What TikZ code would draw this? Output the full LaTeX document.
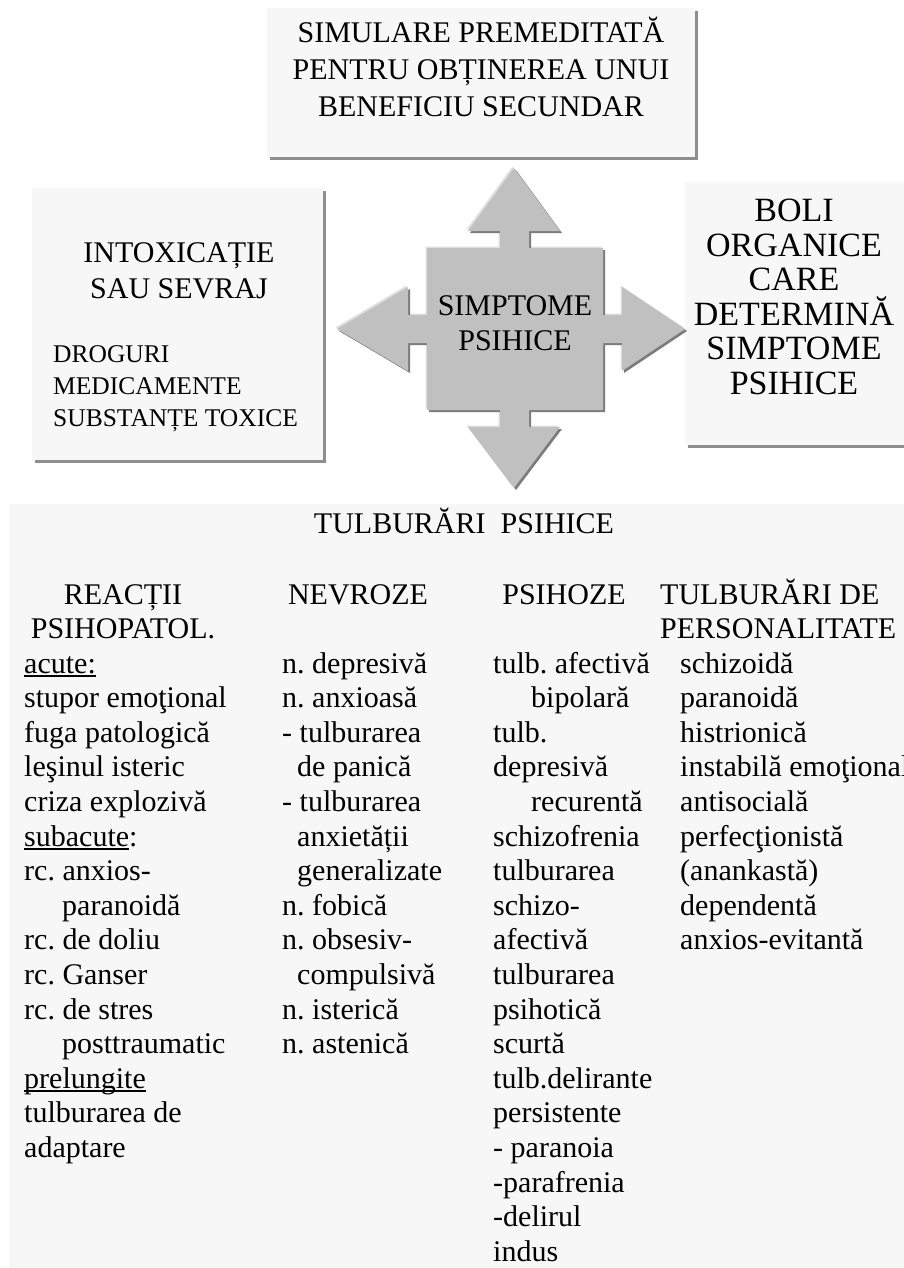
\documentclass[tikz,border=0pt]{standalone}
\usepackage{fontspec}
\setmainfont{Liberation Serif}
\usetikzlibrary{shadows}
\definecolor{panelfill}{HTML}{F7F7F7}
\definecolor{panelshade}{HTML}{8E8E8E}
\definecolor{crossfill}{HTML}{C0C0C0}
\definecolor{crossdark}{HTML}{7C7C7C}
\definecolor{crosslight}{HTML}{DEDEDE}
% underline drawn as a rule just under the baseline, through descenders
\newcommand{\undl}[1]{\leavevmode\setbox0=\hbox{#1}\rlap{\rule[-3.5pt]{\wd0}{1.5pt}}\box0}

\begin{document}
\frenchspacing
\begin{tikzpicture}[x=1pt,y=-1pt,
  panel/.style={fill=panelfill, inner sep=0pt, anchor=north west},
  shaded/.style={drop shadow={shadow xshift=3pt, shadow yshift=-3pt, fill=panelshade, opacity=1}},
  big/.style={inner sep=0pt, font=\fontsize{30}{36}\selectfont},
  large/.style={inner sep=0pt, font=\fontsize{34}{40}\selectfont},
  small/.style={inner sep=0pt, font=\fontsize{25.5}{30}\selectfont}]

\useasboundingbox (0,0) rectangle (904,1268);
\fill[white] (0,0) rectangle (904,1268);

% panels
\node[panel, shaded, minimum width=428, minimum height=149] (simbox) at (267,8) {};
\node[panel, shaded, minimum width=291, minimum height=272] (intbox) at (32,188) {};
\node[panel, shaded, minimum width=240, minimum height=263] (bolbox) at (685,182) {};
\node[panel, minimum width=920, minimum height=790] (tulbox) at (9,504) {};

% four-way arrow with highlight and shadow edges
\foreach \d/\c in {-1.5/crosslight, 2/crossdark, 0/crossfill}
  \fill[\c, shift={(\d,\d)}]
    (427,248) -- (500,248) -- (500,231) -- (468,231) -- (514,168) -- (560,231)
    -- (529,231) -- (529,248) -- (603,248) -- (603,315) -- (622,315) -- (622,287)
    -- (685,329) -- (622,371) -- (622,343) -- (603,343) -- (603,410) -- (529,410)
    -- (529,427) -- (560,427) -- (514,488) -- (468,427) -- (500,427) -- (500,410)
    -- (427,410) -- (427,343) -- (408,343) -- (408,371) -- (337,329) -- (408,287)
    -- (408,315) -- (427,315) -- cycle;

\node[big, anchor=base] (simp1) at (515,315) {SIMPTOME};
\node[big, anchor=base] (simp2) at (515,350) {PSIHICE};

% top panel
\foreach \t [count=\i from 0] in {SIMULARE PREMEDITATĂ, PENTRU OBȚINEREA UNUI, BENEFICIU SECUNDAR}
  \node[big, anchor=base] (sim\i) at (481, 43+37*\i) {\t};

% left panel
\node[big, anchor=base] (int1) at (179,262) {INTOXICAȚIE};
\node[big, anchor=base] (int2) at (179,298) {SAU SEVRAJ};
\foreach \t [count=\i from 0] in {DROGURI, MEDICAMENTE, SUBSTANȚE TOXICE}
  \node[small, anchor=base west] (drg\i) at (53, 362+32*\i) {\t};

% right panel
\foreach \t [count=\i from 0] in {BOLI, ORGANICE, CARE, DETERMINĂ, SIMPTOME, PSIHICE}
  \node[large, anchor=base] (bol\i) at (794, 222+34.4*\i) {\t};

% bottom panel
\node[big, anchor=base] (tulb) at (464,533) {TULBURĂRI\ \ PSIHICE};

\node[big, anchor=base] (h1a) at (123,604) {REACȚII};
\node[big, anchor=base] (h1b) at (123,638.5) {PSIHOPATOL.};
\node[big, anchor=base] (h2) at (358,604) {NEVROZE};
\node[big, anchor=base] (h3) at (564,604) {PSIHOZE};
\node[big, anchor=base west] (h4a) at (660,604) {TULBURĂRI DE};
\node[big, anchor=base west] (h4b) at (660,638.5) {PERSONALITATE};

\foreach \xx/\t [count=\i from 0] in {
    24/{\undl{acute:}}, 24/stupor emoţional, 24/fuga patologică, 24/leşinul isteric,
    24/criza explozivă, 24/{\undl{subacute}:}, 24/rc. anxios-, 62/paranoidă,
    24/rc. de doliu, 24/rc. Ganser, 24/rc. de stres, 62/posttraumatic,
    24/{\undl{prelungite}}, 24/tulburarea de, 24/adaptare}
  \node[big, anchor=base west] (ca\i) at (\xx, 673+34.6*\i) {\t};

\foreach \xx/\t [count=\i from 0] in {
    282/n. depresivă, 282/n. anxioasă, 282/- tulburarea, 297/de panică,
    282/- tulburarea, 297/anxietății, 297/generalizate, 282/n. fobică,
    282/n. obsesiv-, 297/compulsivă, 282/n. isterică, 282/n. astenică}
  \node[big, anchor=base west] (cb\i) at (\xx, 673+34.6*\i) {\t};

\foreach \xx/\t [count=\i from 0] in {
    493/tulb. afectivă, 531/bipolară, 493/tulb., 493/depresivă, 531/recurentă,
    493/schizofrenia, 493/tulburarea, 493/schizo-, 493/afectivă, 493/tulburarea,
    493/psihotică, 493/scurtă, 493/tulb.delirante, 493/persistente,
    493/- paranoia, 493/-parafrenia, 493/-delirul, 493/indus}
  \node[big, anchor=base west] (cc\i) at (\xx, 673+34.6*\i) {\t};

\foreach \t [count=\i from 0] in {
    schizoidă, paranoidă, histrionică, instabilă emoţional, antisocială,
    perfecţionistă, (anankastă), dependentă, anxios-evitantă}
  \node[big, anchor=base west] (cd\i) at (680, 673+34.6*\i) {\t};

\end{tikzpicture}
\end{document}
